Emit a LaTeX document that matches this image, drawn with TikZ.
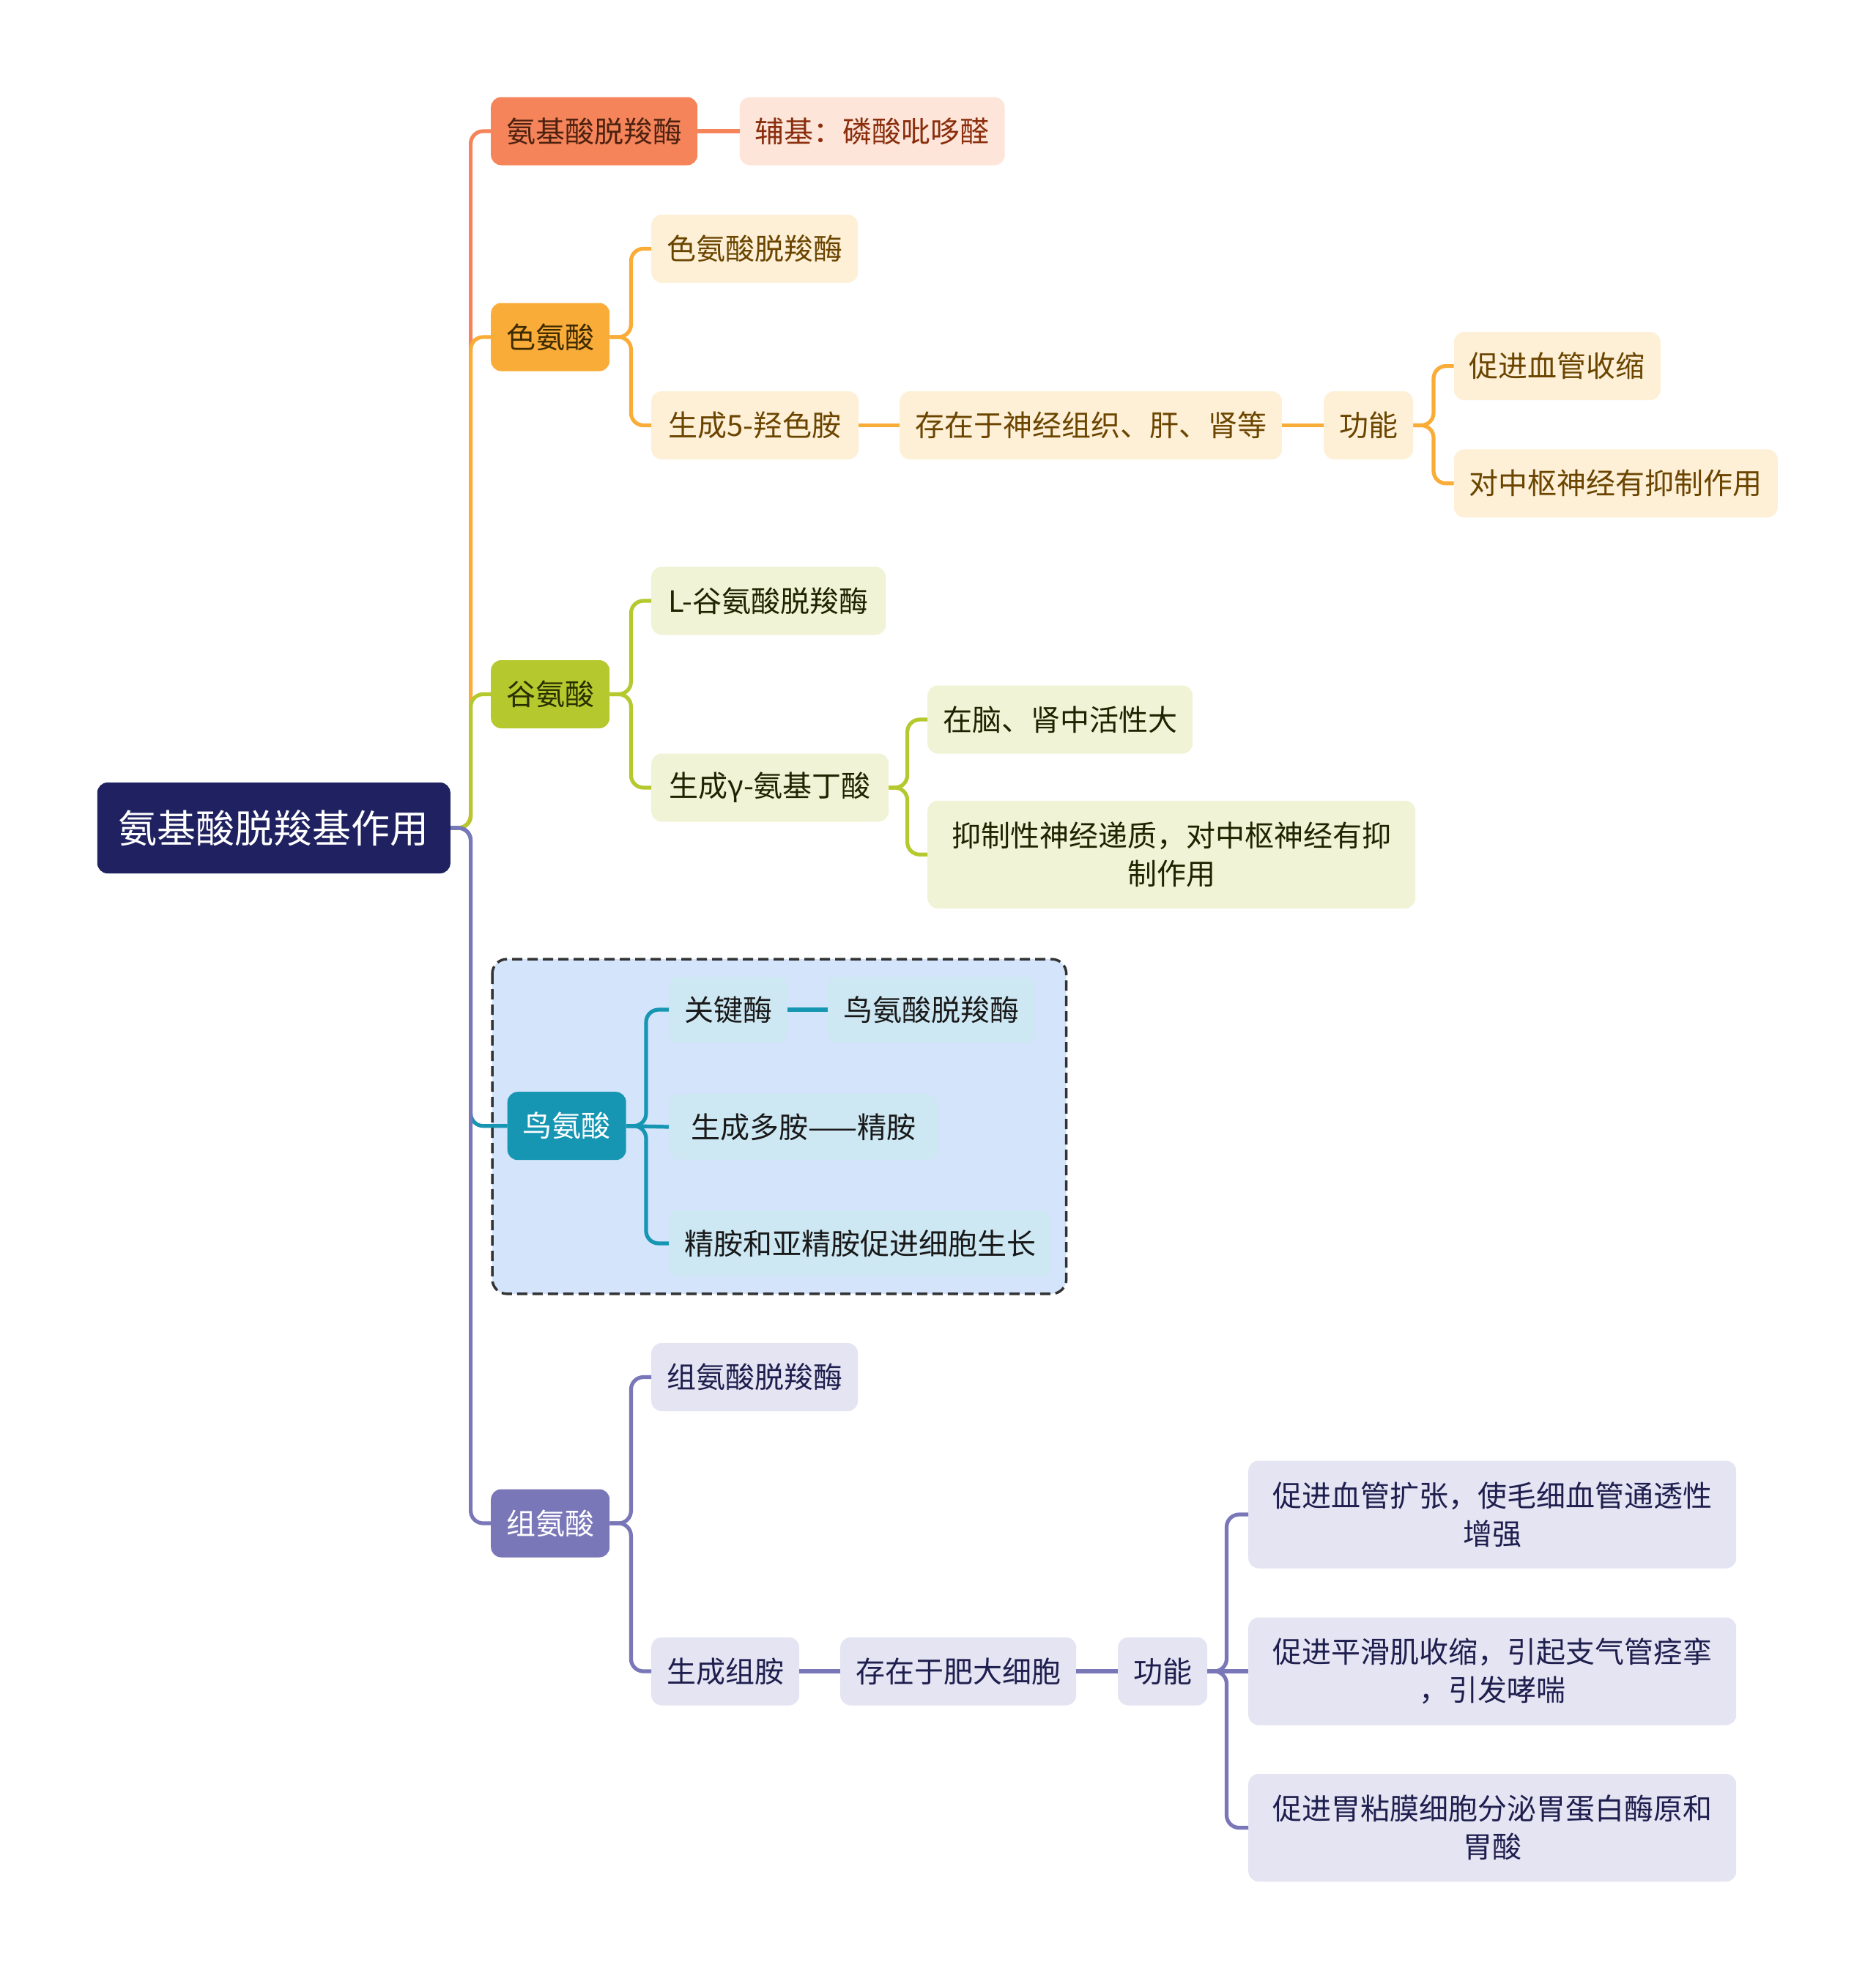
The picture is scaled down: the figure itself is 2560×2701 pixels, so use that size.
\documentclass[tikz,border=0pt]{standalone}
\usepackage{fontspec}
\setmainfont{Noto Sans CJK SC}
\definecolor{rootc}{HTML}{1F2160}
\definecolor{coral}{HTML}{F5845A}
\definecolor{coralL}{HTML}{FDE5DA}
\definecolor{coraltx}{HTML}{4E2210}
\definecolor{coralLtx}{HTML}{8A2E0C}
\definecolor{orng}{HTML}{F9AC38}
\definecolor{orngL}{HTML}{FDF0D7}
\definecolor{orngtx}{HTML}{3E2A00}
\definecolor{orngLtx}{HTML}{6B4500}
\definecolor{grn}{HTML}{B5C92E}
\definecolor{grnL}{HTML}{F0F3D5}
\definecolor{grntx}{HTML}{2A2F00}
\definecolor{grnLtx}{HTML}{1F2300}
\definecolor{tealc}{HTML}{1696B2}
\definecolor{tealL}{HTML}{CDE8F3}
\definecolor{tealbox}{HTML}{D4E4FB}
\definecolor{purp}{HTML}{7A77B9}
\definecolor{purpL}{HTML}{E4E4F3}
\definecolor{purpLtx}{HTML}{1F1F4F}
\begin{document}
\begin{tikzpicture}[x=1pt,y=-1pt,
  base/.style={rounded corners=14pt, inner xsep=21pt, inner ysep=0pt, minimum height=93pt, anchor=west, font=\fontsize{40}{52}\selectfont},
  rootbox/.style={base, fill=rootc, text=white, minimum width=482pt, minimum height=124pt, font=\fontsize{53}{60}\selectfont},
  multi/.style={base, align=center, minimum width=666pt, minimum height=147pt},
  conn/.style={line width=5.2pt, rounded corners=17pt}
]
\useasboundingbox (0,0) rectangle (2560,2701);

% dashed group box
\draw[dashed, dash pattern=on 14pt off 7pt, line width=3.5pt, draw=black!80, fill=tealbox, rounded corners=20pt] (672,1309) rectangle (1455.7,1765.8);

% root
\node[rootbox] (r) at (132.6,1130) {氨基酸脱羧基作用};

% level 1
\node[base, fill=coral, text=coraltx] (a) at (670,179) {氨基酸脱羧酶};
\node[base, fill=orng, text=orngtx] (b) at (670,460) {色氨酸};
\node[base, fill=grn, text=grntx] (c) at (670,947.5) {谷氨酸};
\node[base, fill=tealc, text=white] (d) at (692.5,1536.7) {鸟氨酸};
\node[base, fill=purp, text=white] (e) at (670,2079) {组氨酸};

% coral
\node[base, fill=coralL, text=coralLtx] (a1) at (1009.5,179) {辅基：磷酸吡哆醛};

% orange
\node[base, fill=orngL, text=orngLtx] (b1) at (889,339.4) {色氨酸脱羧酶};
\node[base, fill=orngL, text=orngLtx, minimum width=283pt] (b2) at (889,580.5) {生成5-羟色胺};
\node[base, fill=orngL, text=orngLtx] (b3) at (1228,580.5) {存在于神经组织、肝、肾等};
\node[base, fill=orngL, text=orngLtx] (b4) at (1807,580.5) {功能};
\node[base, fill=orngL, text=orngLtx] (b5) at (1984.6,499.6) {促进血管收缩};
\node[base, fill=orngL, text=orngLtx] (b6) at (1984.6,659.8) {对中枢神经有抑制作用};

% green
\node[base, fill=grnL, text=grnLtx, minimum width=320pt] (c1) at (889,820) {L-谷氨酸脱羧酶};
\node[base, fill=grnL, text=grnLtx, minimum width=324pt] (c2) at (889,1075) {生成γ-氨基丁酸};
\node[base, fill=grnL, text=grnLtx] (c3) at (1266,982) {在脑、肾中活性大};
\node[multi, fill=grnL, text=grnLtx] (c4) at (1266,1166.3) {抑制性神经递质，对中枢神经有抑\\制作用};

% teal
\node[base, fill=tealL, text=black!90, minimum height=90pt] (d1) at (913,1378) {关键酶};
\node[base, fill=tealL, text=black!90, minimum height=90pt] (d2) at (1130,1378) {鸟氨酸脱羧酶};
\node[base, fill=tealL, text=black!90, minimum height=90pt, minimum width=367pt] (d3) at (913,1538) {生成多胺——精胺};
\node[base, fill=tealL, text=black!90, minimum height=90pt] (d4) at (913,1697) {精胺和亚精胺促进细胞生长};

% purple
\node[base, fill=purpL, text=purpLtx] (e1) at (889,1879.5) {组氨酸脱羧酶};
\node[base, fill=purpL, text=purpLtx] (e2) at (889,2281) {生成组胺};
\node[base, fill=purpL, text=purpLtx] (e3) at (1147,2281) {存在于肥大细胞};
\node[base, fill=purpL, text=purpLtx] (e4) at (1526,2281) {功能};
\node[multi, fill=purpL, text=purpLtx] (e5) at (1704,2067) {促进血管扩张，使毛细血管通透性\\增强};
\node[multi, fill=purpL, text=purpLtx] (e6) at (1704,2281) {促进平滑肌收缩，引起支气管痉挛\\，引发哮喘};
\node[multi, fill=purpL, text=purpLtx] (e7) at (1704,2494.5) {促进胃粘膜细胞分泌胃蛋白酶原和\\胃酸};

% trunk connectors (order matters for overlap)
\draw[conn, coral] (r.east) -- ++(27.6,0) |- (a.west);
\draw[conn, orng] (r.east) -- ++(27.6,0) |- (b.west);
\draw[conn, grn] (r.east) -- ++(27.6,0) |- (c.west);
\draw[conn, tealc] (r.east) -- ++(27.6,0) |- (d.west);
\draw[conn, purp] (r.east) -- ++(27.6,0) |- (e.west);

% coral
\draw[conn, coral] (a.east) -- (a1.west);

% orange
\draw[conn, orng] (b.east) -- ++(29,0) |- (b1.west);
\draw[conn, orng] (b.east) -- ++(29,0) |- (b2.west);
\draw[conn, orng] (b2.east) -- (b3.west);
\draw[conn, orng] (b3.east) -- (b4.west);
\draw[conn, orng] (b4.east) -- (1957,580.5) |- (b5.west);
\draw[conn, orng] (b4.east) -- (1957,580.5) |- (b6.west);

% green
\draw[conn, grn] (c.east) -- ++(29,0) |- (c1.west);
\draw[conn, grn] (c.east) -- ++(29,0) |- (c2.west);
\draw[conn, grn] (c2.east) -- (1238.6,1075) |- (c3.west);
\draw[conn, grn] (c2.east) -- (1238.6,1075) |- (c4.west);

% teal
\draw[conn, tealc] (d.east) -- (882,1536.7) |- (d1.west);
\draw[conn, tealc] (d.east) -- (d3.west);
\draw[conn, tealc] (d.east) -- (882,1536.7) |- (d4.west);
\draw[conn, tealc] (d1.east) -- (d2.west);

% purple
\draw[conn, purp] (e.east) -- ++(29,0) |- (e1.west);
\draw[conn, purp] (e.east) -- ++(29,0) |- (e2.west);
\draw[conn, purp] (e2.east) -- (e3.west);
\draw[conn, purp] (e3.east) -- (e4.west);
\draw[conn, purp] (e4.east) -- (1674.5,2281) |- (e5.west);
\draw[conn, purp] (e4.east) -- (e6.west);
\draw[conn, purp] (e4.east) -- (1674.5,2281) |- (e7.west);
\end{tikzpicture}
\end{document}
